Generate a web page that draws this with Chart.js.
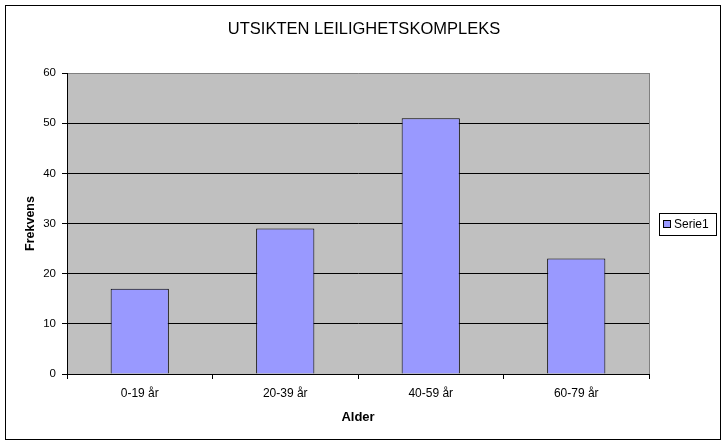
<!DOCTYPE html>
<html>
<head>
<meta charset="utf-8">
<script src="https://cdn.jsdelivr.net/npm/chart.js@4/dist/chart.umd.min.js"></script>
<style>
  html, body { margin: 0; padding: 0; background: #fff; }
  #wrap { width: 726px; height: 445px; position: relative; }
</style>
</head>
<body>
<div id="wrap"><canvas id="chart"></canvas></div>
<script>
// Chart data
const categories = ["0-19 år", "20-39 år", "40-59 år", "60-79 år"];
const serie1 = [17, 29, 51, 23];
const seriesName = "Serie1";
const yTicks = [0, 10, 20, 30, 40, 50, 60];
const chartTitle = "UTSIKTEN LEILIGHETSKOMPLEKS";

const FONT = "'Liberation Sans', Arial, sans-serif";

// gray plot background, frame, title and legend box in the Excel style
const excelLook = {
  id: "excelLook",
  beforeDraw(chart) {
    const { ctx, chartArea: a } = chart;
    ctx.save();
    ctx.fillStyle = "#fff";
    ctx.fillRect(0, 0, chart.width, chart.height);
    ctx.fillStyle = "#C0C0C0";
    ctx.fillRect(a.left, a.top, a.right - a.left, a.bottom - a.top);
    ctx.restore();
  },
  afterDraw(chart) {
    const { ctx, chartArea: a } = chart;
    ctx.save();
    // right border of plot area
    ctx.strokeStyle = "#808080";
    ctx.lineWidth = 1;
    ctx.beginPath();
    ctx.moveTo(Math.round(a.right) + 0.5, a.top);
    ctx.lineTo(Math.round(a.right) + 0.5, a.bottom);
    ctx.stroke();

    // outer chart border
    ctx.strokeStyle = "#000";
    ctx.strokeRect(5.5, 5.5, 715, 434);

    // title, centred on the whole chart
    ctx.fillStyle = "#000";
    ctx.font = "16.5px " + FONT;
    ctx.textAlign = "center";
    ctx.textBaseline = "middle";
    ctx.fillText(chartTitle, 364, 29);

    // legend
    ctx.strokeRect(659.5, 213.5, 57, 22);
    ctx.fillStyle = chart.data.datasets[0].backgroundColor;
    ctx.fillRect(663.5, 220.5, 7, 7);
    ctx.strokeRect(663.5, 220.5, 7, 7);
    ctx.fillStyle = "#000";
    ctx.font = "12px " + FONT;
    ctx.textAlign = "left";
    ctx.fillText(chart.data.datasets[0].label, 674, 225);
    ctx.restore();
  }
};

document.addEventListener("DOMContentLoaded", function () {
  const ctx = document.getElementById("chart");
  new Chart(ctx, {
    type: "bar",
    data: {
      labels: categories,
      datasets: [
        {
          label: seriesName,
          data: serie1,
          backgroundColor: "#9999FF",
          borderColor: "#000",
          borderWidth: 1,
          barPercentage: 0.4,
          categoryPercentage: 1,
        },
      ],
    },
    options: {
      responsive: true,
      maintainAspectRatio: false,
      animation: false,
      devicePixelRatio: 1,
      layout: {
        padding: { left: 23, right: 77, top: 73, bottom: 20 },
      },
      plugins: {
        legend: { display: false },
        tooltip: { enabled: false },
        title: { display: false },
      },
      scales: {
        x: {
          afterFit: (s) => { s.height = 445 - 374 - 20; },
          grid: {
            display: true,
            drawOnChartArea: false,
            offset: true,
            tickLength: 5,
            color: "#000",
          },
          border: { color: "#000", width: 1 },
          ticks: {
            color: "#000",
            padding: 7,
            maxRotation: 0,
            font: { family: FONT, size: 12 },
          },
          title: {
            display: true,
            text: "Alder",
            color: "#000",
            font: { family: FONT, size: 13, weight: "bold" },
            padding: 0,
          },
        },
        y: {
          min: 0,
          max: 60,
          afterFit: (s) => { s.width = 67 - 23; },
          afterBuildTicks: (s) => { s.ticks = yTicks.map((v) => ({ value: v })); },
          grid: {
            color: (c) => (c.tick && c.tick.value === 60 ? "#808080" : "#000"),
            tickColor: "#000",
            tickLength: 5,
          },
          border: { color: "#000", width: 1 },
          ticks: {
            color: "#000",
            padding: 6,
            font: { family: FONT, size: 11.5 },
          },
          title: {
            display: true,
            text: "Frekvens",
            color: "#000",
            font: { family: FONT, size: 12.5, weight: "bold" },
            padding: 0,
          },
        },
      },
    },
    plugins: [excelLook],
  });
});
</script>
</body>
</html>
